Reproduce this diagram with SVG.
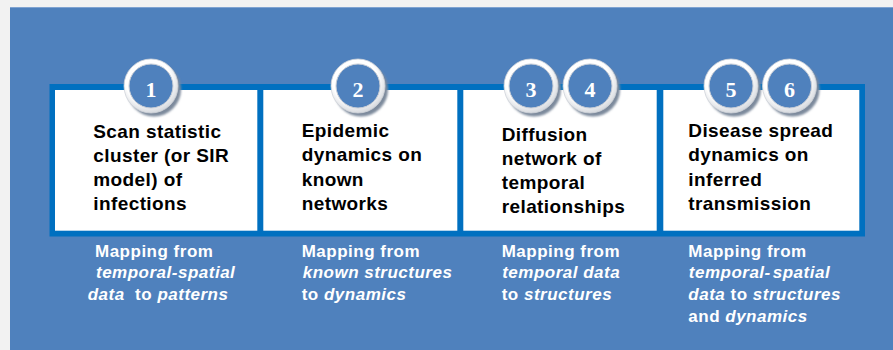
<svg xmlns="http://www.w3.org/2000/svg" width="893" height="350" viewBox="0 0 893 350">
  <defs>
    <radialGradient id="ringGrad" cx="0.45" cy="0.4" r="0.6">
      <stop offset="0.7" stop-color="#ffffff"/>
      <stop offset="1" stop-color="#d6d9de"/>
    </radialGradient>
    <filter id="blur" x="-30%" y="-30%" width="160%" height="160%">
      <feGaussianBlur stdDeviation="1.2"/>
    </filter>
    <g id="badge">
      <circle cx="3" cy="3.5" r="27" fill="#7d8a9c" filter="url(#blur)"/>
      <circle cx="0" cy="0" r="27" fill="url(#ringGrad)" stroke="#cfd3d9" stroke-width="0.8"/>
      <circle cx="0" cy="0" r="22" fill="#4f81bd" stroke="#c9ced6" stroke-width="1"/>
    </g>
  </defs>
  <style>
    .box { fill: #ffffff; }
    .frame { fill: #0070c0; }
    .title { font-family: "Liberation Sans", Arial, sans-serif; font-weight: bold; font-size: 19px; letter-spacing: 0.4px; fill: #000000; }
    .sub { font-family: "Liberation Sans", Arial, sans-serif; font-weight: bold; font-size: 17px; letter-spacing: 0.5px; fill: #ffffff; }
    .it { font-style: italic; }
    .num { font-family: "Liberation Serif", "Times New Roman", serif; font-weight: bold; font-size: 22px; fill: #ffffff; text-anchor: middle; }
  </style>

  <rect x="0" y="0" width="893" height="350" fill="#f2f2f2"/>
  <rect x="10" y="7" width="883" height="343" fill="#4f81bd"/>
  <line x1="10" y1="7.5" x2="893" y2="7.5" stroke="#7fa3d1" stroke-width="1"/>

  <g id="frame">
    <rect class="frame" x="49.5" y="84" width="815.5" height="152.5"/>
  </g>

  <g id="connectors"></g>

  <g id="node1">
    <rect class="box" x="55" y="90" width="202.3" height="140.7"/>
    <use href="#badge" x="151" y="86"/>
    <text class="num" x="151" y="96.5">1</text>
    <text class="title" x="93.3" y="137.7">Scan statistic</text>
    <text class="title" x="93.3" y="161.8">cluster (or SIR</text>
    <text class="title" x="93.3" y="185.9">model) of</text>
    <text class="title" x="93.3" y="210">infections</text>
  </g>

  <g id="node2">
    <rect class="box" x="263.3" y="90" width="194" height="140.7"/>
    <use href="#badge" x="358" y="86"/>
    <text class="num" x="358" y="96.5">2</text>
    <text class="title" x="301.7" y="137.3">Epidemic</text>
    <text class="title" x="301.7" y="161.4">dynamics on</text>
    <text class="title" x="301.7" y="185.5">known</text>
    <text class="title" x="301.7" y="209.6">networks</text>
  </g>

  <g id="node3">
    <rect class="box" x="463.3" y="90" width="193.4" height="140.7"/>
    <use href="#badge" x="531" y="86"/>
    <text class="num" x="531" y="96.5">3</text>
    <use href="#badge" x="590" y="86"/>
    <text class="num" x="590" y="96.5">4</text>
    <text class="title" x="501.7" y="140.7">Diffusion</text>
    <text class="title" x="501.7" y="164.6">network of</text>
    <text class="title" x="501.7" y="188.7">temporal</text>
    <text class="title" x="501.7" y="212.7">relationships</text>
  </g>

  <g id="node4">
    <rect class="box" x="663.3" y="90" width="196" height="140.7"/>
    <use href="#badge" x="731" y="86"/>
    <text class="num" x="731" y="96.5">5</text>
    <use href="#badge" x="789.5" y="86"/>
    <text class="num" x="789.5" y="96.5">6</text>
    <text class="title" x="688.3" y="137.3">Disease spread</text>
    <text class="title" x="688.3" y="161.4">dynamics on</text>
    <text class="title" x="688.3" y="185.5">inferred</text>
    <text class="title" x="688.3" y="209.6">transmission</text>
  </g>

  <g id="label1">
    <text class="sub" x="95" y="256.7">Mapping from</text>
    <text class="sub it" x="96" y="278.3">temporal-spatial</text>
    <text class="sub" x="87.7" y="300" xml:space="preserve"><tspan class="it">data</tspan>  to <tspan class="it">patterns</tspan></text>
  </g>

  <g id="label2">
    <text class="sub" x="301.7" y="256.7">Mapping from</text>
    <text class="sub it" x="302.7" y="278.3">known structures</text>
    <text class="sub" x="301.7" y="300">to <tspan class="it">dynamics</tspan></text>
  </g>

  <g id="label3">
    <text class="sub" x="501.7" y="256.7">Mapping from</text>
    <text class="sub it" x="502.2" y="278.3">temporal data</text>
    <text class="sub" x="501.7" y="300">to <tspan class="it">structures</tspan></text>
  </g>

  <g id="label4">
    <text class="sub" x="688.3" y="256.7">Mapping from</text>
    <text class="sub it" x="688.8" y="278.3">temporal-<tspan dx="2">spatial</tspan></text>
    <text class="sub" x="688.3" y="300"><tspan class="it">data</tspan> to <tspan class="it">structures</tspan></text>
    <text class="sub" x="688.3" y="321.7">and <tspan class="it">dynamics</tspan></text>
  </g>
</svg>
